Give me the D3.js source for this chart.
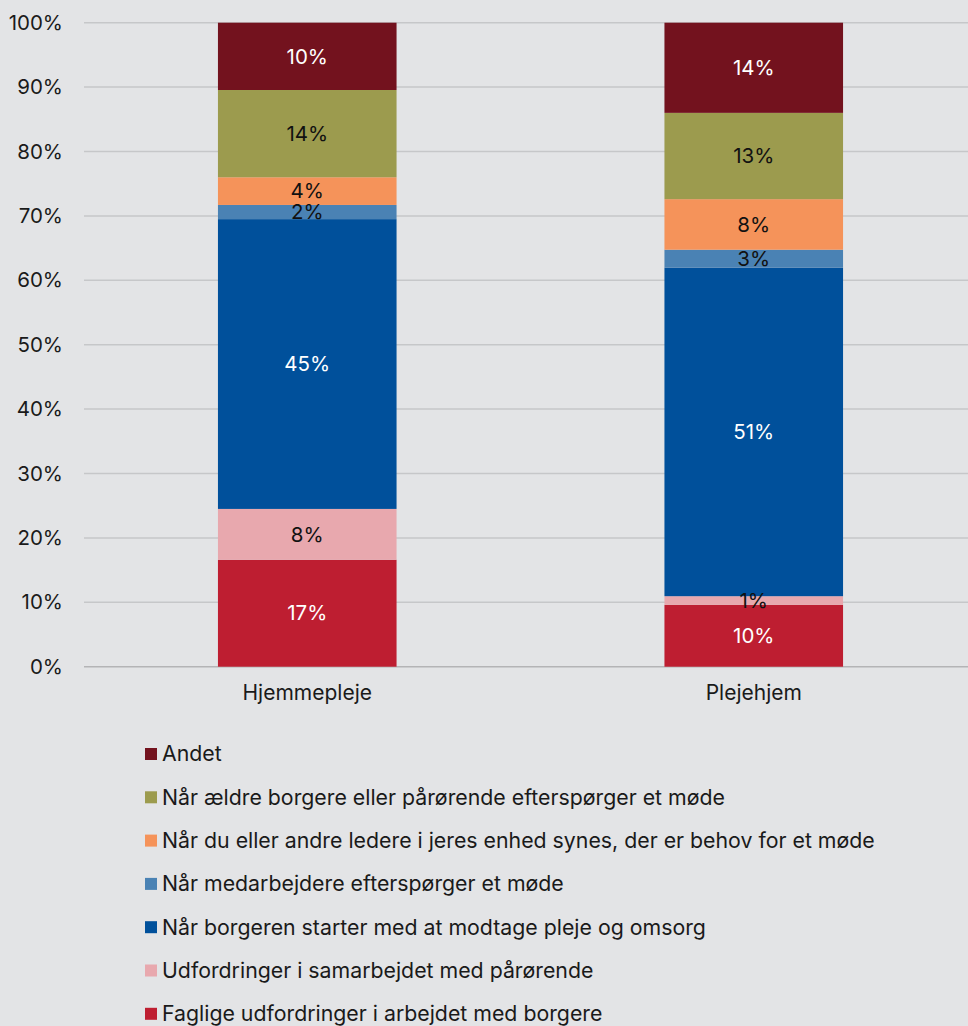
<!DOCTYPE html>
<html>
<head>
<meta charset="utf-8">
<script src="https://cdn.jsdelivr.net/npm/d3@7"></script>
<style>
  html, body { margin: 0; padding: 0; background: #e3e4e6; }
  svg { display: block; font-family: Inter, "Noto Sans", sans-serif; }
</style>
</head>
<body>
<svg id="chart" width="968" height="1026"></svg>
<script>
// Categories (x axis)
const categories = ["Hjemmepleje", "Plejehjem"];

// Series, bottom of the stack first
const seriesNames = [
  "Faglige udfordringer i arbejdet med borgere",
  "Udfordringer i samarbejdet med pårørende",
  "Når borgeren starter med at modtage pleje og omsorg",
  "Når medarbejdere efterspørger et møde",
  "Når du eller andre ledere i jeres enhed synes, der er behov for et møde",
  "Når ældre borgere eller pårørende efterspørger et møde",
  "Andet"
];

// Shares in percent, one array per series: [Hjemmepleje, Plejehjem]
const faglige      = [16.6, 9.6];
const udfordringer = [7.9, 1.35];
const borgeren     = [45.0, 51.0];
const medarbejdere = [2.2, 2.8];
const ledere       = [4.3, 7.85];
const aeldre       = [13.55, 13.4];
const andet        = [10.45, 14.0];

const seriesValues = [faglige, udfordringer, borgeren, medarbejdere, ledere, aeldre, andet];

// Y tick values
const yTicks = [0, 10, 20, 30, 40, 50, 60, 70, 80, 90, 100];

const colors = ["#be1e31", "#e8a8ae", "#00509b", "#4a82b4", "#f5935a", "#9c9b4e", "#73121e"];
const labelColors = ["#ffffff", "#111111", "#ffffff", "#111111", "#111111", "#111111", "#ffffff"];

const svg = d3.select("#chart");
const margin = { left: 84, right: -9, top: 22.7, bottom: 1026 - 666.7 };
const W = 968, H = 1026;

const x = d3.scaleBand()
  .domain(categories)
  .range([margin.left, W - margin.right])
  .paddingInner(0.6)
  .paddingOuter(0.3);

const y = d3.scaleLinear()
  .domain([0, 100])
  .range([H - margin.bottom, margin.top]);

// Gridlines
svg.append("g")
  .selectAll("line")
  .data(yTicks)
  .join("line")
  .attr("x1", margin.left)
  .attr("x2", W)
  .attr("y1", d => y(d))
  .attr("y2", d => y(d))
  .attr("stroke", d => d === 0 ? "#b4b4b6" : "#c6c7c9")
  .attr("stroke-width", 1.5);

// Y axis labels
const yAxis = d3.axisLeft(y).tickValues(yTicks).tickFormat(d => d + "%").tickSize(0).tickPadding(0);
svg.append("g")
  .attr("transform", `translate(${margin.left - 21},0)`)
  .call(yAxis)
  .call(g => g.select(".domain").remove())
  .call(g => g.selectAll("text")
    .attr("font-family", "Inter, 'Noto Sans', sans-serif")
    .attr("font-size", 20.5)
    .attr("fill", "#1a1a1a"));

// Stack
const table = categories.map((c, i) => {
  const row = { category: c };
  seriesNames.forEach((s, j) => row[s] = seriesValues[j][i]);
  return row;
});
const stacked = d3.stack().keys(seriesNames)(table);

const layers = svg.append("g")
  .selectAll("g")
  .data(stacked)
  .join("g")
  .attr("fill", (d, i) => colors[i]);

layers.selectAll("rect")
  .data(d => d)
  .join("rect")
  .attr("x", d => x(d.data.category))
  .attr("width", x.bandwidth())
  .attr("y", d => y(d[1]))
  .attr("height", d => y(d[0]) - y(d[1]));

// Value labels
const labels = svg.append("g");
stacked.forEach((layer, i) => {
  layer.forEach(d => {
    labels.append("text")
      .attr("x", x(d.data.category) + x.bandwidth() / 2)
      .attr("y", (y(d[0]) + y(d[1])) / 2)
      .attr("dy", "0.35em")
      .attr("text-anchor", "middle")
      .attr("font-size", 20.5)
      .attr("fill", labelColors[i])
      .text(Math.round(d[1] - d[0]) + "%");
  });
});

// X axis labels
const xAxis = d3.axisBottom(x).tickSize(0).tickPadding(0);
svg.append("g")
  .attr("transform", `translate(0,${y(0) + 18})`)
  .call(xAxis)
  .call(g => g.select(".domain").remove())
  .call(g => g.selectAll("text")
    .attr("font-family", "Inter, 'Noto Sans', sans-serif")
    .attr("font-size", 21)
    .attr("fill", "#1a1a1a"));

// Legend, top to bottom from the last series
const legendItems = seriesNames.map((s, i) => ({ name: s, color: colors[i] })).reverse();
const legend = svg.append("g");
legendItems.forEach((item, i) => {
  const cy = 754 + i * 43.3;
  legend.append("rect")
    .attr("x", 145)
    .attr("y", cy - 6)
    .attr("width", 12)
    .attr("height", 12)
    .attr("fill", item.color);
  legend.append("text")
    .attr("x", 162)
    .attr("y", cy)
    .attr("dy", "0.35em")
    .attr("font-size", 21.3)
    .attr("fill", "#1a1a1a")
    .text(item.name);
});
</script>
</body>
</html>
